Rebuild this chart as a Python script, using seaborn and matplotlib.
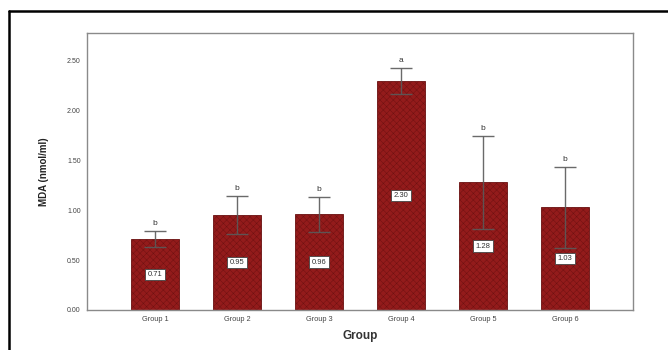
import matplotlib
matplotlib.use("Agg")
import matplotlib.pyplot as plt
from matplotlib.lines import Line2D
import seaborn as sns
import pandas as pd

groups = ["Group 1", "Group 2", "Group 3", "Group 4", "Group 5", "Group 6"]
mda_mean = [0.71, 0.95, 0.96, 2.30, 1.28, 1.03]
mda_err = [0.08, 0.19, 0.175, 0.13, 0.47, 0.41]
letters = ["b", "b", "b", "a", "b", "b"]
yticks = [0.00, 0.50, 1.00, 1.50, 2.00, 2.50]

sns.set_theme(style="white")
plt.rcParams["font.family"] = ["Liberation Sans", "DejaVu Sans"]
plt.rcParams["hatch.linewidth"] = 0.3

df = pd.DataFrame({"Group": groups, "MDA": mda_mean})

fig = plt.figure(figsize=(6.68, 3.5), dpi=100)
W, H = 668, 350
ax = fig.add_axes([87 / W, 1 - 310 / H, (633 - 87) / W, (310 - 33) / H])

bar_color = "#931b1b"
sns.barplot(data=df, x="Group", y="MDA", color=bar_color, saturation=1,
            width=0.58, errorbar=None, ax=ax, edgecolor="#6a1010",
            linewidth=0.6)
for p in ax.patches:
    p.set_hatch("xxxxx")

xs = [p.get_x() + p.get_width() / 2 for p in ax.patches]
ax.errorbar(xs, mda_mean, yerr=mda_err, fmt="none", ecolor="#5a5a5a",
            elinewidth=1.0, capsize=8, capthick=1.0, zorder=3, alpha=0.9)

for x, m, e, lt in zip(xs, mda_mean, mda_err, letters):
    ax.text(x, m + e + 0.04, lt, ha="center", va="bottom", fontsize=6,
            color="#333333")
    ax.text(x, m / 2, f"{m:.2f}", ha="center", va="center", fontsize=5.5,
            color="#333333", zorder=4,
            bbox=dict(boxstyle="square,pad=0.3", fc="white", ec="#444444",
                      lw=0.6))

ax.set_xlim(-0.83, 5.83)
ax.set_ylim(0, 2.78)
ax.set_yticks(yticks)
ax.set_yticklabels([f"{v:.2f}" for v in yticks])
ax.tick_params(axis="both", labelsize=5, colors="#555555", length=3,
               width=0.6, direction="out", pad=1.5)
ax.tick_params(axis="x", labelcolor="#444444", labelsize=5.3)
ax.tick_params(axis="y", labelcolor="#444444")
ax.set_ylabel("MDA (nmol/ml)", fontsize=7, fontweight="bold",
              color="#222222", labelpad=13)
ax.set_xlabel("Group", fontsize=8.5, fontweight="bold", color="#333333",
              labelpad=5)
for s in ax.spines.values():
    s.set_visible(True)
    s.set_color("#8a8a8a")
    s.set_linewidth(1.0)

# outer frame: top and left edges only
fig.add_artist(Line2D([9 / W, 1], [1 - 11 / H, 1 - 11 / H], color="black",
                      lw=1.8, transform=fig.transFigure))
fig.add_artist(Line2D([9 / W, 9 / W], [0, 1 - 11 / H], color="black",
                      lw=1.8, transform=fig.transFigure))

fig.savefig("out.png", dpi=100, facecolor="white")
